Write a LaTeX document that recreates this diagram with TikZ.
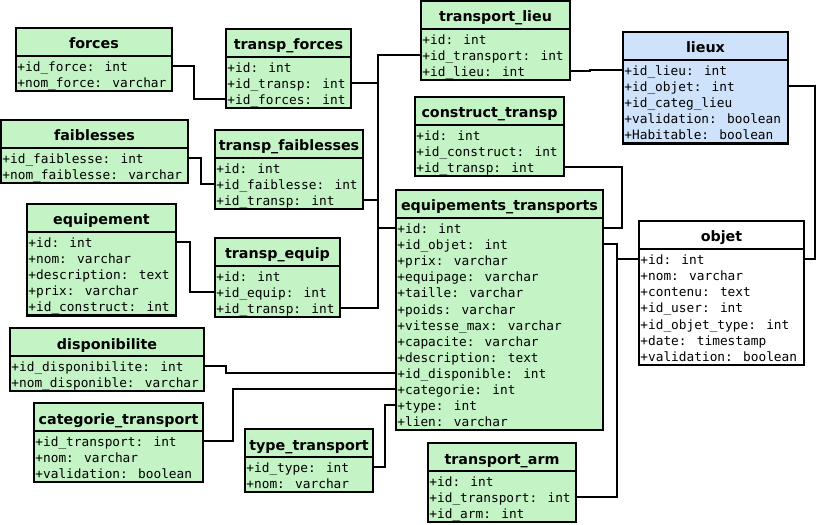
\documentclass[tikz,border=0pt]{standalone}
\usepackage{fontspec}
\setmainfont{DejaVu Sans}
\newfontfamily\attrfont{DejaVu Sans Mono}
\definecolor{tgreen}{RGB}{196,244,198}
\definecolor{tblue}{RGB}{206,226,252}
\tikzset{
  tbox/.style={draw=black, line width=2.2bp, inner sep=0pt, outer sep=0pt, rectangle},
  gbox/.style={tbox, fill=tgreen},
  bbox/.style={tbox, fill=tblue},
  wbox/.style={tbox, fill=white},
  ttl/.style={font=\fontsize{14.3bp}{16bp}\selectfont\bfseries, inner sep=0pt, anchor=base},
  attr/.style={font=\attrfont\fontsize{12.8bp}{15bp}\selectfont, inner sep=0pt, anchor=base west},
  link/.style={draw=black, line width=2bp}
}
\newcommand\tbl[8]{%
  \pgfmathsetmacro\tblH{31+#5*16.1}%
  \node[#6, anchor=north west, minimum width=#4 bp, minimum height=\tblH bp] (#1) at (#2,#3) {};
  \pgfmathsetmacro\tblS{#3+28}%
  \draw[line width=2.2bp] (#2,\tblS) -- ++(#4,0);
  \node[ttl] (#1-t) at (#2+#4/2,#3+21) {#7};
  \foreach \rowtext [count=\k] in {#8} {
    \pgfmathsetmacro\ry{\tblS+2+(\k-0.5)*16.1}
    \pgfmathsetmacro\rb{\tblS+15.6+(\k-1)*16.1}
    \coordinate (#1-w\k) at (#2,\ry);
    \coordinate (#1-e\k) at (#2+#4,\ry);
    \node[attr] (#1-a\k) at (#2+1.2,\rb) {\rowtext};
  }
}
\begin{document}
\begin{tikzpicture}[x=1bp,y=-1bp]
\useasboundingbox (0,0) rectangle (820,525);
\tbl{forces}{16}{28}{156}{2}{gbox}{forces}{+id\_force: int, +nom\_force: varchar}
\tbl{tforces}{226}{29}{125}{3}{gbox}{transp\_forces}{+id: int, +id\_transp: int, +id\_forces: int}
\tbl{faib}{1}{120}{187}{2}{gbox}{faiblesses}{+id\_faiblesse: int, +nom\_faiblesse: varchar}
\tbl{tfaib}{215}{130}{148}{3}{gbox}{transp\_faiblesses}{+id: int, +id\_faiblesse: int, +id\_transp: int}
\tbl{equip}{27}{204}{149}{5}{gbox}{equipement}{+id: int, +nom: varchar, +description: text, +prix: varchar, +id\_construct: int}
\tbl{tequip}{215}{238}{125}{3}{gbox}{transp\_equip}{+id: int, +id\_equip: int, +id\_transp: int}
\tbl{dispo}{10}{328}{194}{2}{gbox}{disponibilite}{+id\_disponibilite: int, +nom\_disponible: varchar}
\tbl{cat}{34}{403}{169}{3}{gbox}{categorie\_transport}{+id\_transport: int, +nom: varchar, +validation: boolean}
\tbl{ttype}{245}{429}{128}{2}{gbox}{type\_transport}{+id\_type: int, +nom: varchar}
\tbl{tlieu}{421}{1}{149}{3}{gbox}{transport\_lieu}{+id: int, +id\_transport: int, +id\_lieu: int}
\tbl{lieux}{623}{32}{165}{5}{bbox}{lieux}{+id\_lieu: int, +id\_objet: int, +id\_categ\_lieu, +validation: boolean, +Habitable: boolean}
\tbl{ctransp}{415}{97}{149}{3}{gbox}{construct\_transp}{+id: int, +id\_construct: int, +id\_transp: int}
\tbl{et}{396}{190}{207}{13}{gbox}{equipements\_transports}{+id: int, +id\_objet: int, +prix: varchar, +equipage: varchar, +taille: varchar, +poids: varchar, +vitesse\_max: varchar, +capacite: varchar, +description: text, +id\_disponible: int, +categorie: int, +type: int, +lien: varchar}
\tbl{objet}{639}{221}{165}{7}{wbox}{objet}{+id: int, +nom: varchar, +contenu: text, +id\_user: int, +id\_objet\_type: int, +date: timestamp, +validation: boolean}
\tbl{tarm}{428}{443}{148}{3}{gbox}{transport\_arm}{+id: int, +id\_transport: int, +id\_arm: int}
% connectors
\draw[link] (forces-e1) -- ++(22,0) |- (tforces-w3);
\draw[link] (faib-e1) -- ++(13,0) |- (tfaib-w2);
\draw[link] (equip-e1) -- ++(14,0) |- (tequip-w2);
\draw[link] (et-w1) -- ++(-18,0) |- (tlieu-w2);
\draw[link] (et-w1) -- ++(-18,0) |- (tforces-e2);
\draw[link] (et-w1) -- ++(-18,0) |- (tfaib-e3);
\draw[link] (et-w1) -- ++(-18,0) |- (tequip-e3);
\draw[link] (tlieu-e3) -- ++(20,0) |- (lieux-w1);
\draw[link] (lieux-e2) -- ++(27,0) |- (objet-e1);
\draw[link] (ctransp-e3) -- ++(58,0) |- (et-e1);
\draw[link] (et-e2) -- ++(14,0) |- (objet-w1);
\draw[link] (tarm-e2) -- ++(41,0) |- (et-e2);
\draw[link] (dispo-e1) -- ++(22,0) |- (et-w10);
\draw[link] (cat-e1) -- ++(30,0) |- (et-w11);
\draw[link] (ttype-e1) -- ++(12,0) |- (et-w12);
\end{tikzpicture}
\end{document}
